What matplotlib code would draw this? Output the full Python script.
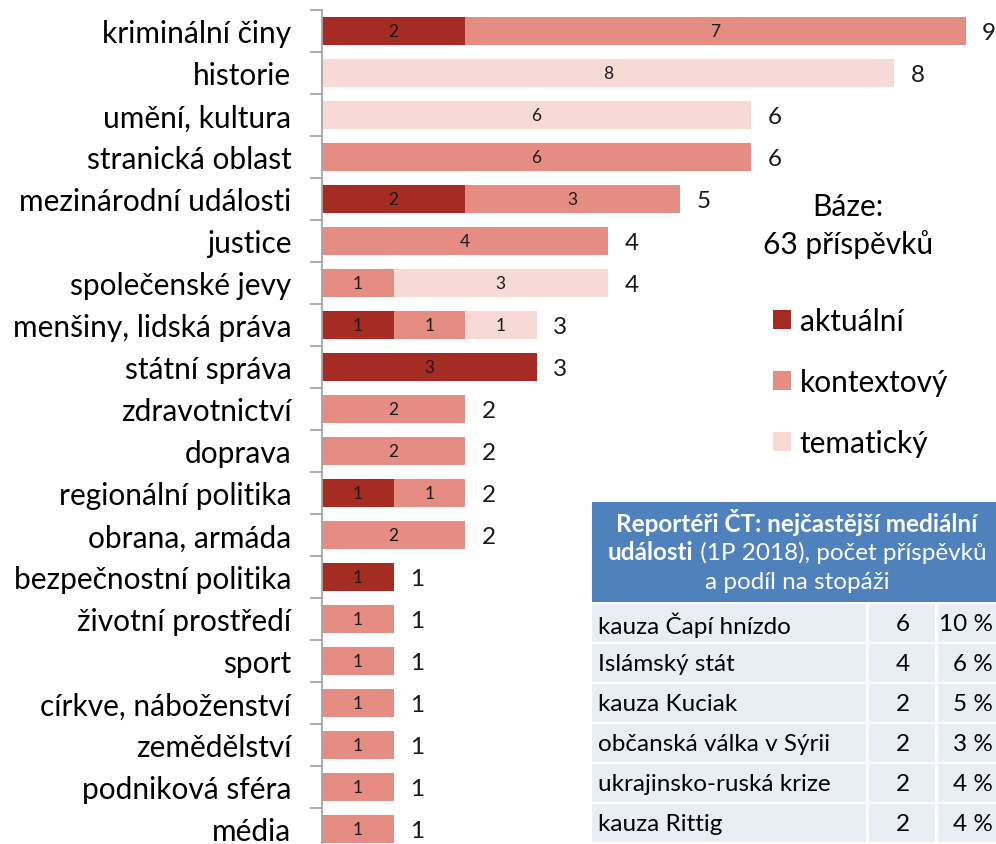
import matplotlib.pyplot as plt
from matplotlib.patches import Rectangle
import numpy as np

plt.rcParams['font.family'] = ['Lato', 'DejaVu Sans']

categories = ["kriminální činy", "historie", "umění, kultura", "stranická oblast",
              "mezinárodní události", "justice", "společenské jevy",
              "menšiny, lidská práva", "státní správa", "zdravotnictví", "doprava",
              "regionální politika", "obrana, armáda", "bezpečnostní politika",
              "životní prostředí", "sport", "církve, náboženství", "zemědělství",
              "podniková sféra", "média"]
aktualni = [2, 0, 0, 0, 2, 0, 0, 1, 3, 0, 0, 1, 0, 1, 0, 0, 0, 0, 0, 0]
kontextovy = [7, 0, 0, 6, 3, 4, 1, 1, 0, 2, 2, 1, 2, 0, 1, 1, 1, 1, 1, 1]
tematicky = [0, 8, 6, 0, 0, 0, 3, 1, 0, 0, 0, 0, 0, 0, 0, 0, 0, 0, 0, 0]
series_names = ["aktuální", "kontextový", "tematický"]
colors = ["#A52C22", "#E68D83", "#F7D9D5"]

table_title_bold = ["Reportéři ČT: nejčastější mediální", "události"]
table_title_rest = [" (1P 2018), počet příspěvků", "a podíl na stopáži"]
events = ["kauza Čapí hnízdo", "Islámský stát", "kauza Kuciak",
          "občanská válka v Sýrii", "ukrajinsko-ruská krize", "kauza Rittig"]
event_counts = [6, 4, 2, 2, 2, 2]
event_share = ["10 %", "6 %", "5 %", "3 %", "4 %", "4 %"]

W, H = 996, 845
fig = plt.figure(figsize=(W / 100, H / 100), dpi=100)
ax = fig.add_axes([322 / W, (H - 851) / H, (W - 322) / W, 840 / H])

y = np.arange(len(categories))
left = np.zeros(len(categories))
containers = []
for vals, name, col in zip([aktualni, kontextovy, tematicky], series_names, colors):
    vals = np.array(vals)
    c = ax.barh(y, vals, left=left, height=0.67, color=col, label=name)
    ax.bar_label(c, labels=[str(v) if v > 0 else "" for v in vals],
                 label_type='center', fontsize=12.5, color='#1a1a1a')
    containers.append(c)
    left = left + vals

totals = left.astype(int)
tl = ax.bar_label(containers[-1], labels=[str(t) for t in totals], padding=12,
                  fontsize=17.5, color='#1a1a1a')
for t in tl:
    t.set_va('center_baseline')

ax.set_ylim(len(categories) - 0.5, -0.5)
ax.set_xlim(0, (W - 322) / 71.5)
ax.set_yticks(np.arange(len(categories) + 1) - 0.5)
ax.set_yticklabels([])
ax.set_yticks(y, minor=True)
ax.set_yticklabels(categories, minor=True, fontsize=21.5)
ax.tick_params(axis='y', which='major', length=9, width=1.3, color='#A6A6A6')
ax.tick_params(axis='y', which='minor', length=0, pad=22)
ax.set_xticks([])
for s in ['top', 'right', 'bottom']:
    ax.spines[s].set_visible(False)
ax.spines['left'].set_color('#A6A6A6')
ax.spines['left'].set_linewidth(1.3)

# overlay in pixel coordinates for base note, legend and table
ov = fig.add_axes([0, 0, 1, 1])
ov.set_xlim(0, W)
ov.set_ylim(H, 0)
ov.axis('off')

ov.text(848, 207, "Báze:", ha='center', va='center', fontsize=21.5)
ov.text(848, 245, "63 příspěvků", ha='center', va='center', fontsize=21.5)

leg = ov.legend(handles=containers, labels=series_names, loc='upper left',
                bbox_to_anchor=(746 / W, 1 - 281 / H), frameon=False,
                fontsize=21.5, handlelength=0.6, handleheight=0.6,
                handletextpad=0.3, labelspacing=1.1)

# table
ov.add_patch(Rectangle((592, 503), W - 592, 100, color='#4F81BD', lw=0))
fig.canvas.draw()
r = fig.canvas.get_renderer()
ov.text(797, 523, table_title_bold[0], ha='center', va='center', color='white',
        fontsize=17.5, weight='bold')
t1 = ov.text(0, 553, table_title_bold[1], ha='left', va='center', color='white',
             fontsize=17.5, weight='bold')
t2 = ov.text(0, 553, table_title_rest[0], ha='left', va='center', color='white',
             fontsize=17.5)
w1 = t1.get_window_extent(r).width
w2 = t2.get_window_extent(r).width
x0 = 797 - (w1 + w2) / 2
t1.set_x(x0)
t2.set_x(x0 + w1)
ov.text(797, 583, table_title_rest[1], ha='center', va='center', color='white',
        fontsize=17.5)

cols = [(592, 866), (869, 935), (938, W)]
for i, (ev, cnt, sh) in enumerate(zip(events, event_counts, event_share)):
    top = 605 + 40 * i
    for a, b in cols:
        ov.add_patch(Rectangle((a, top), b - a, 38, color='#E9EDF4', lw=0))
    cy = top + 20
    ov.text(598, cy, ev, ha='left', va='center', fontsize=17.5)
    ov.text(903, cy, str(cnt), ha='center', va='center', fontsize=17.5)
    ov.text(993, cy, sh, ha='right', va='center', fontsize=17.5)

fig.savefig("out.png", dpi=100)
